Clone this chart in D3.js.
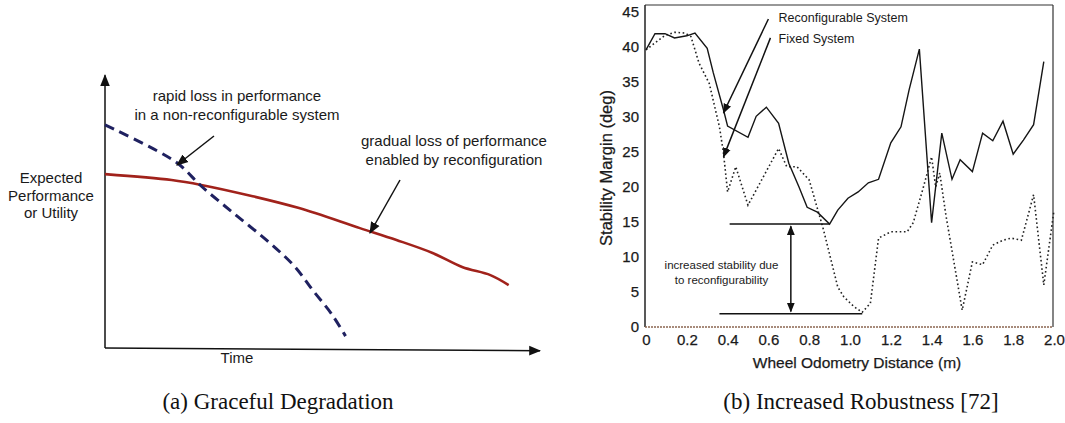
<!DOCTYPE html>
<head>
    <meta charset="utf-8">
    <script src="https://cdn.jsdelivr.net/npm/d3@7"></script>
    <style>
        body { margin: 0; background: #fff; }
        text { font-family: "Liberation Sans", Arial, sans-serif; fill: #1a1a1a; }
        .caption { font-family: "Liberation Serif", "DejaVu Serif", serif; font-size: 23px; fill: #111; }
        .heavy { stroke: #1a1a1a; stroke-width: 0.25px; }
        .domain { display: none; }
    </style>
</head>

<body>
<script>

    // (a) sketch: time and performance in arbitrary units (0-100)
    var reconfTime = [0, 15.3, 22.1, 33.7, 44.4, 58.6, 67, 75.3, 82.1, 88.6, 92.8];
    var reconfPerf = [64.4, 62.2, 60.4, 56.3, 51.9, 44.4, 40, 35.2, 30, 27, 23.3];
    var fixedTime = [0, 16.3, 22.1, 29.5, 37.9, 43.7, 47.9, 52.1, 55.3];
    var fixedPerf = [82.6, 68.9, 60, 50, 38.9, 30, 21.1, 12.6, 4.4];

    // (b) measured stability margin vs wheel odometry
    var reconfDist = [0, 0.044, 0.093, 0.14, 0.2, 0.24, 0.30, 0.33, 0.38, 0.40, 0.50, 0.54, 0.59, 0.65, 0.70, 0.75, 0.79, 0.84, 0.90, 0.94, 0.99, 1.04, 1.09, 1.14, 1.20, 1.25, 1.29, 1.34, 1.40, 1.45, 1.50, 1.54, 1.60, 1.65, 1.70, 1.75, 1.80, 1.85, 1.90, 1.95];
    var reconfMargin = [39.6, 41.9, 41.9, 41.3, 41.6, 42, 39.8, 36.3, 31, 28.7, 27.1, 30.1, 31.4, 29.1, 23.4, 20, 17.1, 16.4, 14.7, 16.7, 18.4, 19.3, 20.6, 21.1, 26.3, 28.6, 33.9, 39.7, 14.9, 27.7, 21.1, 23.9, 22.2, 27.7, 26.6, 29.4, 24.7, 26.7, 28.9, 37.9];
    var fixedDist = [0, 0.09, 0.14, 0.19, 0.22, 0.26, 0.31, 0.36, 0.38, 0.40, 0.44, 0.50, 0.65, 0.69, 0.74, 0.80, 0.87, 0.94, 0.97, 1.02, 1.06, 1.10, 1.14, 1.20, 1.28, 1.31, 1.36, 1.40, 1.42, 1.44, 1.47, 1.55, 1.60, 1.65, 1.70, 1.75, 1.79, 1.84, 1.90, 1.95, 2.0];
    var fixedMargin = [39.6, 41.6, 42.1, 42, 41.5, 37.7, 34.8, 28.6, 24.8, 19.3, 22.9, 17.4, 25.5, 22.9, 22.9, 21, 13.9, 5.7, 4.3, 2.9, 2.1, 3.4, 12.7, 13.6, 13.6, 14.9, 20, 24.3, 20, 22, 16, 2.4, 9.3, 8.9, 11.7, 12.4, 12.7, 12.4, 18.9, 6.0, 16.7];

    var xTicks = [0, 0.2, 0.4, 0.6, 0.8, 1.0, 1.2, 1.4, 1.6, 1.8, 2.0];
    var xTickLabels = ["0", "0.2", "0.4", "0.6", "0.8", "1.0", "1.2", "1.4", "1.6", "1.8", "2.0"];
    var yTicks = [0, 5, 10, 15, 20, 25, 30, 35, 40, 45];

    var svg = d3.select("body").append("svg")
        .attr("width", 1065)
        .attr("height", 423);

    var defs = svg.append("defs");
    function marker(id, size) {
        defs.append("marker")
            .attr("id", id)
            .attr("viewBox", "0 0 10 10")
            .attr("refX", 9).attr("refY", 5)
            .attr("markerWidth", size).attr("markerHeight", size)
            .attr("markerUnits", "userSpaceOnUse")
            .attr("orient", "auto-start-reverse")
            .append("path")
            .attr("d", "M0,1 L10,5 L0,9 z")
            .style("fill", "#111");
    }
    marker("headA", 12);
    marker("headB", 10);

    // ---------- (a) Graceful Degradation ----------
    var xA = d3.scaleLinear().domain([0, 100]).range([105, 540]);
    var yA = d3.scaleLinear().domain([0, 100]).range([348, 78]);
    var gA = svg.append("g");

    gA.append("line")
        .attr("x1", xA(0)).attr("y1", yA(0))
        .attr("x2", xA(0)).attr("y2", yA(101))
        .style("stroke", "#111").style("stroke-width", 1.5)
        .attr("marker-end", "url(#headA)");
    gA.append("line")
        .attr("x1", xA(0)).attr("y1", yA(0))
        .attr("x2", xA(100)).attr("y2", yA(-1))
        .style("stroke", "#111").style("stroke-width", 1.5)
        .attr("marker-end", "url(#headA)");

    var lineA = d3.line()
        .x(function(d) { return xA(d[0]); })
        .y(function(d) { return yA(d[1]); })
        .curve(d3.curveCatmullRom);

    gA.append("path")
        .datum(reconfTime.map(function(t, i) { return [t, reconfPerf[i]]; }))
        .attr("d", lineA)
        .style("fill", "none").style("stroke", "#a1221b").style("stroke-width", 2.6);

    gA.append("path")
        .datum(fixedTime.map(function(t, i) { return [t, fixedPerf[i]]; }))
        .attr("d", lineA)
        .style("fill", "none").style("stroke", "#1f2160").style("stroke-width", 3)
        .style("stroke-dasharray", "10,6");

    gA.append("text").attr("x", 237).attr("y", 363)
        .style("font-size", "15px").style("text-anchor", "middle").text("Time");
    ["Expected", "Performance", "or Utility"].forEach(function(s, i) {
        gA.append("text").attr("x", 51).attr("y", 183 + i * 17.5)
            .style("font-size", "15px").style("text-anchor", "middle").text(s);
    });
    ["rapid loss in performance", "in a non-reconfigurable system"].forEach(function(s, i) {
        gA.append("text").attr("x", 237).attr("y", 101 + i * 19)
            .style("font-size", "15px").style("text-anchor", "middle").text(s);
    });
    ["gradual loss of performance", "enabled by reconfiguration"].forEach(function(s, i) {
        gA.append("text").attr("x", 454).attr("y", 146 + i * 18.5)
            .style("font-size", "15px").style("text-anchor", "middle").text(s);
    });
    gA.append("line").attr("x1", 214).attr("y1", 136).attr("x2", 177).attr("y2", 165)
        .style("stroke", "#111").style("stroke-width", 1.5).attr("marker-end", "url(#headA)");
    gA.append("line").attr("x1", 400).attr("y1", 180).attr("x2", 370).attr("y2", 233)
        .style("stroke", "#111").style("stroke-width", 1.5).attr("marker-end", "url(#headA)");

    // ---------- (b) Increased Robustness ----------
    var xB = d3.scaleLinear().domain([0, 2]).range([646, 1054]);
    var yB = d3.scaleLinear().domain([0, 46]).range([327, 5]);
    var gB = svg.append("g");

    gB.append("line").attr("x1", 645).attr("y1", 5).attr("x2", 1053).attr("y2", 5)
        .style("stroke", "#333").style("stroke-width", 1.2);
    gB.append("line").attr("x1", 1053).attr("y1", 5).attr("x2", 1053).attr("y2", yB(0))
        .style("stroke", "#333").style("stroke-width", 1.2);
    gB.append("line").attr("x1", 645).attr("y1", 5).attr("x2", 645).attr("y2", yB(0))
        .style("stroke", "#222").style("stroke-width", 1.5);
    gB.append("line").attr("x1", 645).attr("y1", yB(0)).attr("x2", 1053).attr("y2", yB(0))
        .style("stroke", "#8a6650").style("stroke-width", 1.5).style("stroke-dasharray", "2,1");

    var xAxis = d3.axisBottom(xB).tickValues(xTicks).tickSize(0).tickPadding(7)
        .tickFormat(function(d, i) { return xTickLabels[i]; });
    var yAxis = d3.axisLeft(yB).tickValues(yTicks).tickSize(0).tickPadding(6);
    gB.append("g").attr("transform", "translate(0," + yB(0) + ")").call(xAxis)
        .selectAll("text").attr("class", "heavy")
        .style("font-size", "15px").style("font-family", "Liberation Sans").style("fill", "#1a1a1a");
    gB.append("g").attr("transform", "translate(645,0)").call(yAxis)
        .selectAll("text").attr("class", "heavy")
        .style("font-size", "15px").style("font-family", "Liberation Sans").style("fill", "#1a1a1a");

    gB.append("text").attr("class", "heavy").attr("x", 857).attr("y", 368)
        .style("font-size", "15.5px").style("text-anchor", "middle").text("Wheel Odometry Distance (m)");
    gB.append("text").attr("class", "heavy").attr("transform", "translate(612,168) rotate(-90)")
        .style("font-size", "16.5px").style("text-anchor", "middle").text("Stability Margin (deg)");

    var lineB = d3.line()
        .x(function(d) { return xB(d[0]); })
        .y(function(d) { return yB(d[1]); });

    gB.append("path")
        .datum(fixedDist.map(function(t, i) { return [t, fixedMargin[i]]; }))
        .attr("d", lineB)
        .style("fill", "none").style("stroke", "#222").style("stroke-width", 1.6)
        .style("stroke-dasharray", "1.6,2.6");
    gB.append("path")
        .datum(reconfDist.map(function(t, i) { return [t, reconfMargin[i]]; }))
        .attr("d", lineB)
        .style("fill", "none").style("stroke", "#151515").style("stroke-width", 1.4);

    // annotations
    function segB(x1, y1, x2, y2, mk) {
        var l = gB.append("line")
            .attr("x1", xB(x1)).attr("y1", yB(y1)).attr("x2", xB(x2)).attr("y2", yB(y2))
            .style("stroke", "#111").style("stroke-width", 1.5);
        if (mk === 1 || mk === 2) l.attr("marker-end", "url(#headB)");
        if (mk === 2) l.attr("marker-start", "url(#headB)");
    }
    segB(0.60, 44, 0.38, 30.6, 1);
    segB(0.61, 41.3, 0.38, 24.3, 1);
    segB(0.41, 14.7, 0.90, 14.7, 0);
    segB(0.36, 1.9, 1.06, 1.9, 0);
    segB(0.71, 14.4, 0.71, 2.2, 2);

    gB.append("text").attr("x", xB(0.65)).attr("y", yB(44.1) + 4)
        .style("font-size", "12.5px").text("Reconfigurable System");
    gB.append("text").attr("x", xB(0.65)).attr("y", yB(41.1) + 4)
        .style("font-size", "12.5px").text("Fixed System");
    gB.append("text").attr("x", xB(0.37)).attr("y", yB(8.9) + 4)
        .style("font-size", "11.5px").style("text-anchor", "middle").text("increased stability due");
    gB.append("text").attr("x", xB(0.37)).attr("y", yB(6.7) + 4)
        .style("font-size", "11.5px").style("text-anchor", "middle").text("to reconfigurability");

    // captions
    svg.append("text").attr("class", "caption").attr("x", 278).attr("y", 409)
        .style("text-anchor", "middle").text("(a) Graceful Degradation");
    svg.append("text").attr("class", "caption").attr("x", 861).attr("y", 409)
        .style("text-anchor", "middle").text("(b) Increased Robustness [72]");

</script>
</body>
